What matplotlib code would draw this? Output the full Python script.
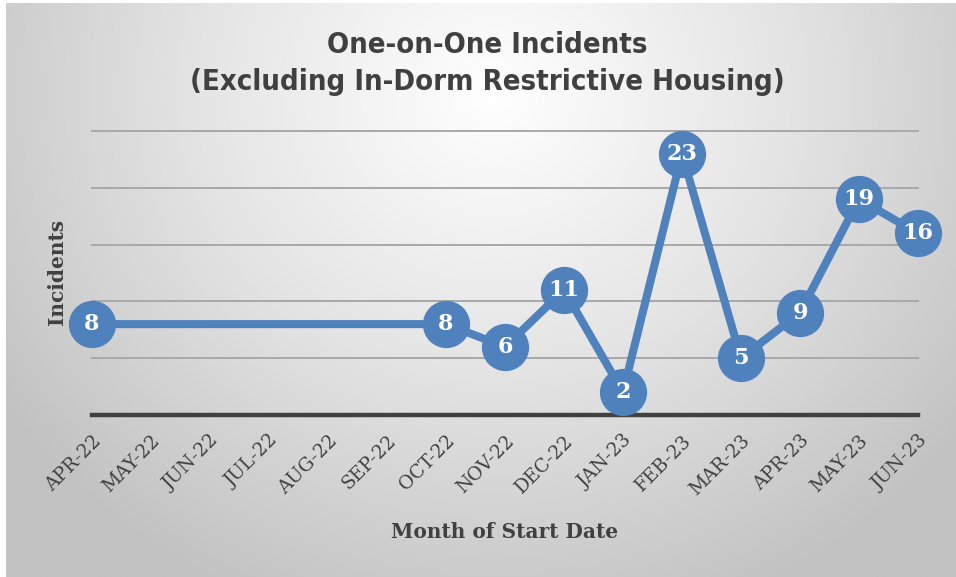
import numpy as np
import matplotlib.pyplot as plt
from matplotlib.colors import LinearSegmentedColormap

months = ["APR-22", "MAY-22", "JUN-22", "JUL-22", "AUG-22", "SEP-22", "OCT-22",
          "NOV-22", "DEC-22", "JAN-23", "FEB-23", "MAR-23", "APR-23", "MAY-23", "JUN-23"]
data_months = ["APR-22", "OCT-22", "NOV-22", "DEC-22", "JAN-23", "FEB-23",
               "MAR-23", "APR-23", "MAY-23", "JUN-23"]
incidents = [8, 8, 6, 11, 2, 23, 5, 9, 19, 16]

BLUE = "#4F81BD"
DARK = "#404040"

W, H = 956, 577
fig = plt.figure(figsize=(W / 100, H / 100), dpi=100)
fig.patch.set_facecolor("white")

# radial gradient background
bg = fig.add_axes([6 / W, 0, 1 - 6 / W, 1 - 3 / H])
yy, xx = np.mgrid[0:H, 0:W]
r = np.sqrt(((xx - 490) / 600.0) ** 2 + ((yy - 90) / 560.0) ** 2)
cmap = LinearSegmentedColormap.from_list("bg", ["#FFFFFF", "#E4E4E4", "#C2C2C2"])
bg.imshow(np.clip(r, 0, 1), cmap=cmap, vmin=0, vmax=1, aspect="auto", interpolation="bilinear")
bg.axis("off")

# plot area
left, right = 92 / W, 918 / W
bottom, top = 1 - 415 / H, 1 - 131 / H
ax = fig.add_axes([left, bottom, right - left, top - bottom])
ax.set_facecolor("none")

x = [months.index(m) for m in data_months]
ax.set_xlim(0, len(months) - 1)
ax.set_ylim(0, 25)

for gy in [5, 10, 15, 20, 25]:
    ax.axhline(gy, color="#A8A8A8", lw=1.4, zorder=1, clip_on=False)
ax.axhline(0, color=DARK, lw=3.2, zorder=2, clip_on=False)

ax.plot(x, incidents, color=BLUE, lw=5.8, marker="o", markersize=33,
        markerfacecolor=BLUE, markeredgecolor=BLUE, zorder=3, clip_on=False,
        solid_joinstyle="round")
for xi, v in zip(x, incidents):
    ax.text(xi, v, str(v), color="white", ha="center", va="center",
            fontsize=16, fontweight="bold", family="DejaVu Serif", zorder=4)

for s in ax.spines.values():
    s.set_visible(False)
ax.set_yticks([])
ax.set_xticks(range(len(months)))
ax.set_xticklabels(months, rotation=45, ha="right", rotation_mode="anchor",
                   fontsize=13.5, family="DejaVu Serif", color=DARK)
ax.tick_params(axis="x", length=0, pad=12)

fig.text(505 / W, 1 - 532 / H, "Month of Start Date", ha="center", va="center",
         fontsize=14.5, fontweight="bold", family="DejaVu Serif", color=DARK)
fig.text(57 / W, 1 - 272 / H, "Incidents", ha="center", va="center", rotation=90,
         fontsize=14.5, fontweight="bold", family="DejaVu Serif", color=DARK)

title_font = dict(fontsize=21, fontweight="bold", family="DejaVu Sans",
                  fontstretch="condensed", color=DARK)
fig.text(487 / W, 1 - 45 / H, "One-on-One Incidents", ha="center", va="center", **title_font)
fig.text(487 / W, 1 - 82 / H, "(Excluding In-Dorm Restrictive Housing)", ha="center",
         va="center", **title_font)

fig.savefig("out.png", dpi=100)
